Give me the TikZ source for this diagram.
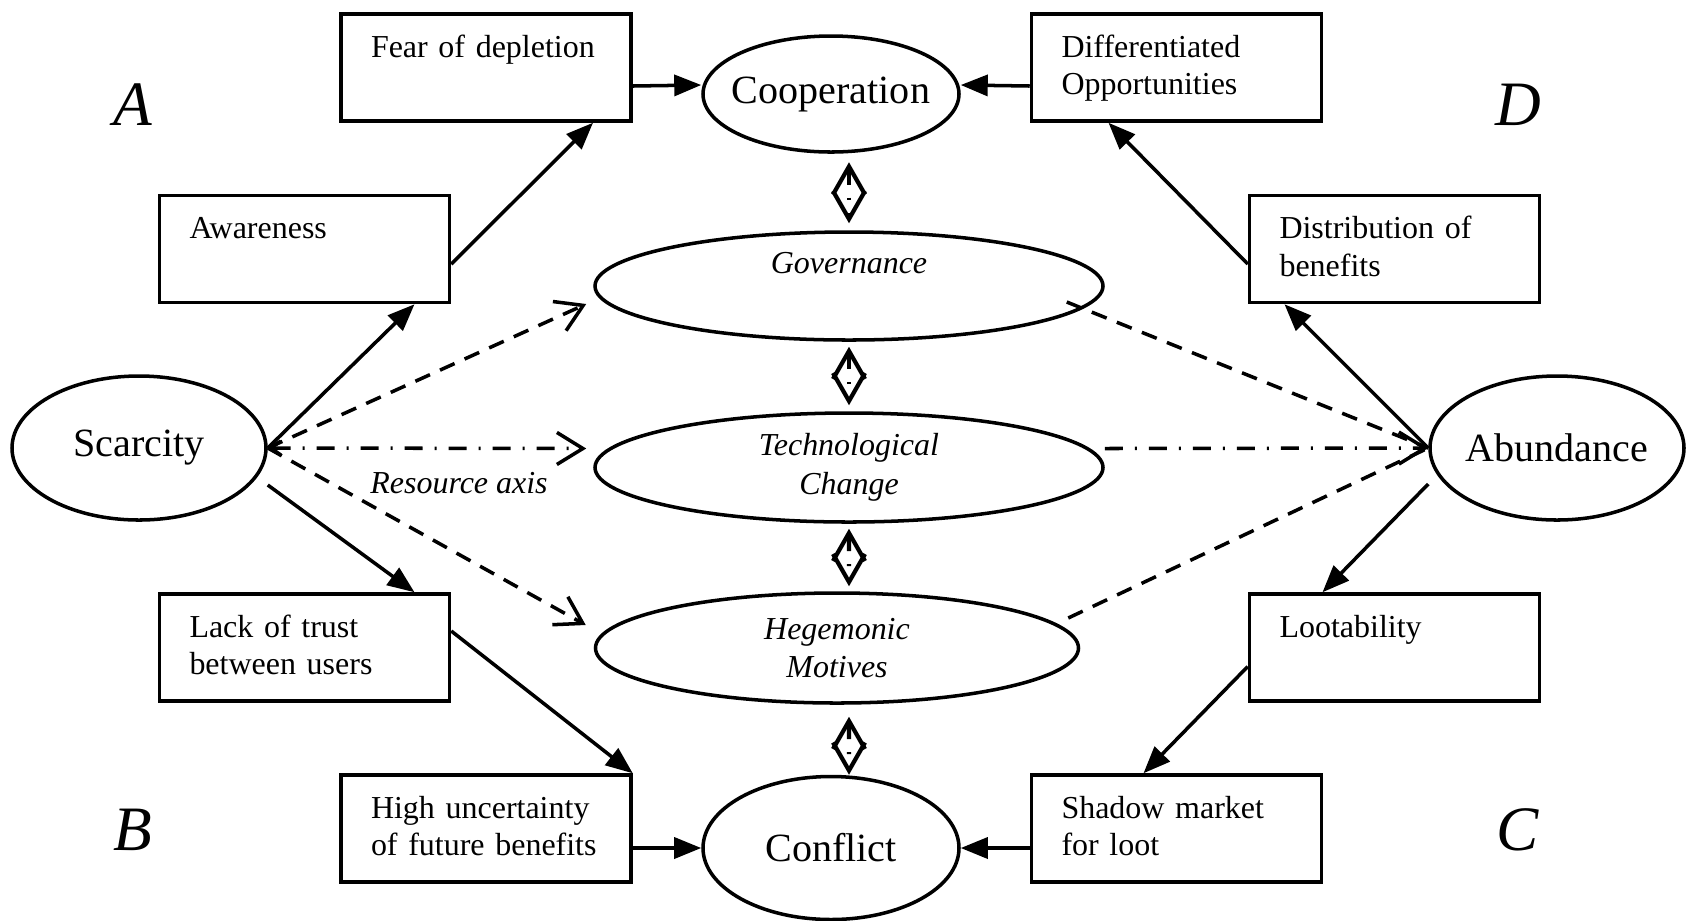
\documentclass[tikz,border=0pt]{standalone}
\usepackage{fontspec}
\setmainfont{Liberation Serif}
\usetikzlibrary{arrows.meta, shapes.geometric}

\tikzset{
    rbox/.style={draw, line width=1pt, text width=2.3cm, inner xsep=0.3cm, inner ysep=0pt,
        align=left, text height=0.43cm, text depth=0.64cm, font=\fontsize{9.1}{10.7}\selectfont},
    oval/.style={draw, ellipse, line width=1pt, inner sep=0pt},
    bigtext/.style={font=\fontsize{11.4}{13}\selectfont},
    midtext/.style={font=\fontsize{9.1}{11}\selectfont\itshape, align=center},
    letter/.style={font=\fontsize{18}{20}\selectfont\itshape},
    arr/.style={line width=1pt, -{Triangle[length=0.27cm,width=0.21cm]}},
    dashline/.style={line width=1pt, dash pattern=on 0.16cm off 0.11cm},
    dasharr/.style={dashline, -{Straight Barb[length=0.26cm,width=0.32cm]}},
    axisline/.style={line width=1pt, dash pattern=on 0.18cm off 0.12cm on 0.02cm off 0.12cm},
    updown/.style={line width=1.2pt, dash pattern=on 0.16cm off 0.13cm on 0.02cm off 0.13cm,
        {Straight Barb[length=0.28cm,width=0.32cm]}-{Straight Barb[length=0.28cm,width=0.32cm]}}
}

\begin{document}
\begin{tikzpicture}
    \useasboundingbox (0,0) rectangle (16.91,-9.20);

    % outcomes and poles
    \node[oval, bigtext, minimum width=2.56cm, minimum height=1.16cm] (coop) at (8.31,-0.94) {\makebox[0pt]{Cooperation}};
    \node[oval, bigtext, minimum width=2.56cm, minimum height=1.43cm] (confl) at (8.31,-8.48) {\makebox[0pt]{Conflict}};
    \node[oval, bigtext, minimum width=2.54cm, minimum height=1.44cm] (sca) at (1.39,-4.48) {\makebox[0pt]{Scarcity}};
    \node[oval, bigtext, minimum width=2.54cm, minimum height=1.44cm] (abu) at (15.57,-4.48) {\makebox[0pt]{Abundance}};

    % middle ellipses
    \node[oval, midtext, minimum width=5.08cm, minimum height=1.08cm, text height=0.22cm, text depth=0.48cm] (gov) at (8.49,-2.86) {Governance};
    \node[oval, midtext, minimum width=5.08cm, minimum height=1.09cm] (tech) at (8.49,-4.675) {Technological\\Change};
    \node[oval, midtext, minimum width=4.83cm, minimum height=1.10cm] (heg) at (8.37,-6.48) {Hegemonic\\Motives};

    % boxes
    \node[rbox] (fear) at (4.86,-0.675) {Fear of depletion};
    \node[rbox] (diff) at (11.765,-0.675) {Differentiated\\Opportunities};
    \node[rbox] (aware) at (3.045,-2.49) {Awareness};
    \node[rbox] (distr) at (13.945,-2.49) {Distribution of\\benefits};
    \node[rbox] (trust) at (3.045,-6.475) {Lack of trust\\between users};
    \node[rbox] (loot) at (13.945,-6.475) {Lootability};
    \node[rbox] (high) at (4.86,-8.285) {High uncertainty\\of future benefits};
    \node[rbox] (shadow) at (11.765,-8.285) {Shadow market\\for loot};

    % quadrant letters
    \node[letter] (la) at (1.33,-1.05) {A};
    \node[letter] (ld) at (15.18,-1.05) {D};
    \node[letter] (lb) at (1.33,-8.30) {B};
    \node[letter] (lc) at (15.18,-8.30) {C};
    \node[midtext] (res) at (4.59,-4.83) {Resource axis};

    % solid paths
    \draw[arr] ([yshift=-0.185cm]fear.east) -- ([yshift=0.09cm]coop.west);
    \draw[arr] ([yshift=-0.185cm]diff.west) -- ([yshift=0.09cm]coop.east);
    \draw[arr] ([yshift=-0.15cm]aware.east) -- ([xshift=1.07cm]fear.south);
    \draw[arr] (sca.east) -- ([xshift=1.1cm]aware.south);
    \draw[arr] ([yshift=-0.37cm]sca.east) -- ([xshift=1.1cm]trust.north);
    \draw[arr] ([yshift=0.165cm]trust.east) -- (high.north east);
    \draw[arr] (high.east |- confl.west) -- (confl.west);
    \draw[arr] (shadow.west |- confl.east) -- (confl.east);
    \draw[arr] (abu.west) -- ([xshift=-1.1cm]distr.south);
    \draw[arr] ([yshift=-0.15cm]distr.west) -- ([xshift=-0.68cm]diff.south);
    \draw[arr] ([yshift=-0.36cm]abu.west) -- ([xshift=-0.72cm]loot.north);
    \draw[arr] ([yshift=-0.19cm]loot.west) -- ([xshift=-0.33cm]shadow.north);

    % resource axis
    \draw[dasharr] (sca.east) -- ([shift={(-0.07,-0.18)}]gov.west);
    \draw[dasharr] (sca.east) -- ([shift={(-0.08,0.23)}]heg.west);
    \draw[axisline, {Straight Barb[length=0.1cm,width=0.14cm]}-{Straight Barb[length=0.26cm,width=0.32cm]}] (sca.east) -- ([shift={(-0.07,0.19)}]tech.west);
    \draw[axisline, -{Straight Barb[length=0.26cm,width=0.32cm]}] ([yshift=0.19cm]tech.east) -- (abu.west);
    \draw[dashline] ([shift={(-0.38,-0.16)}]gov.east) -- (abu.west);
    \draw[dashline] ([shift={(-0.12,0.30)}]heg.east) -- (abu.west);

    % vertical links
    \draw[updown] ([yshift=0.68cm]gov.north) -- ([yshift=0.07cm]gov.north);
    \draw[updown] ([yshift=-0.05cm]gov.south) -- ([yshift=0.06cm]tech.north);
    \draw[updown] ([yshift=-0.05cm]tech.south) -- ([shift={(0.12,0.05)}]heg.north);
    \draw[updown] ([shift={(0.12,-0.12)}]heg.south) -- ([xshift=0.18cm]confl.north);
\end{tikzpicture}
\end{document}
